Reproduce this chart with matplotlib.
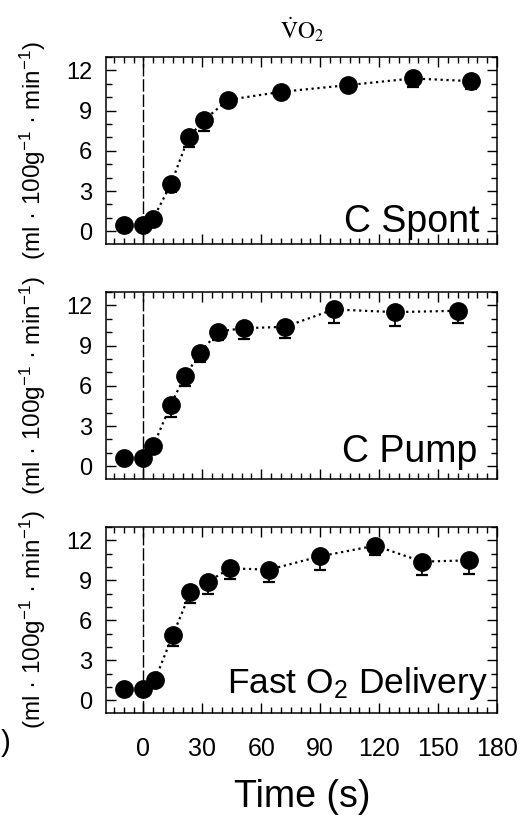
import matplotlib
matplotlib.use('Agg')
import matplotlib.pyplot as plt
from matplotlib.ticker import MultipleLocator

plt.rcParams['font.family'] = ['Liberation Sans', 'DejaVu Sans']
plt.rcParams['mathtext.fontset'] = 'custom'
plt.rcParams['mathtext.rm'] = 'Liberation Sans'
plt.rcParams['mathtext.it'] = 'Liberation Sans:italic'

# C Spont
t_spont = [-10, 0, 5, 14, 23, 31, 43, 70, 104, 137, 167]
v_spont = [0.45, 0.45, 0.95, 3.5, 7.0, 8.3, 9.8, 10.4, 10.9, 11.4, 11.2]
e_spont = [0, 0, 0, 0.6, 0.7, 0.8, 0.4, 0.35, 0.4, 0.65, 0.6]

# C Pump
t_pump = [-10, 0, 5, 14, 21, 29, 38, 51, 72, 97, 128, 160]
v_pump = [0.63, 0.6, 1.5, 4.6, 6.7, 8.45, 10.05, 10.3, 10.4, 11.7, 11.5, 11.6]
e_pump = [0, 0, 0, 0.9, 0.7, 0.7, 0.65, 0.8, 0.85, 1.0, 1.0, 0.9]

# Fast O2 Delivery
t_fast = [-10, 0, 6, 15, 24, 33, 44, 64, 90, 118, 142, 166]
v_fast = [0.82, 0.82, 1.56, 4.9, 8.1, 8.9, 9.9, 9.8, 10.8, 11.6, 10.4, 10.5]
e_fast = [0, 0, 0, 0.8, 0.8, 0.9, 0.8, 0.9, 1.0, 0.7, 1.0, 1.0]

panels = [
    (t_spont, v_spont, e_spont, 'C Spont', 0.954, 0.064, 27),
    (t_pump, v_pump, e_pump, 'C Pump', 0.949, 0.093, 27),
    (t_fast, v_fast, e_fast, 'Fast O$_2$ Delivery', 0.975, 0.107, 25.5),
]

W, H = 525, 818
fig = plt.figure(figsize=(W / 100, H / 100), dpi=100)

# axes boxes in pixels (left, top, right, bottom)
boxes = [(106, 57, 497, 244), (106, 292, 497, 479), (106, 527, 497, 713)]

for i, ((t, v, e, label, lx, ly, fs), (l, tp, r, b)) in enumerate(zip(panels, boxes)):
    ax = fig.add_axes([l / W, 1 - b / H, (r - l) / W, (b - tp) / H])
    ax.axvline(0, color='black', lw=1, dashes=(9, 2))
    ax.plot(t, v, color='black', ls=':', lw=1.6, zorder=2)
    ax.errorbar(t, v, yerr=[e, [0] * len(e)], fmt='none', ecolor='black',
                elinewidth=1.3, capsize=4.5, capthick=1.6, zorder=3)
    ax.plot(t, v, 'o', color='black', ms=12.5, zorder=4)
    ax.set_xlim(-19, 180)
    ax.set_ylim(-0.95, 13.0)
    ax.xaxis.set_major_locator(MultipleLocator(30))
    ax.xaxis.set_minor_locator(MultipleLocator(5))
    ax.yaxis.set_major_locator(MultipleLocator(3))
    ax.yaxis.set_minor_locator(MultipleLocator(1))
    ax.tick_params(which='both', direction='in', top=True, right=True, width=1)
    ax.tick_params(which='major', length=7)
    ax.tick_params(which='minor', length=4)
    ax.tick_params(axis='y', labelsize=17, pad=10)
    ax.tick_params(axis='x', labelsize=18, pad=17)
    if i < 2:
        ax.tick_params(axis='x', labelbottom=False)
    for s in ax.spines.values():
        s.set_linewidth(1.1)
    ax.set_ylabel('(ml · 100g$^{-1}$ · min$^{-1}$)', fontsize=17.5)
    ax.yaxis.set_label_coords(-0.148, 0.5)
    ax.text(lx, ly, label, transform=ax.transAxes, ha='right', va='baseline',
            fontsize=fs)

fig.text(302 / W, 1 - 30 / H, r'$\dot{\mathrm{V}}\mathrm{O}_2$', ha='center',
         va='center', fontsize=17, math_fontfamily='stix')
fig.text(302 / W, 1 - 797 / H, 'Time (s)', ha='center', va='center',
         fontsize=27)
fig.text(0.002, 1 - 743 / H, ')', ha='left', va='center', fontsize=21)

fig.savefig('out.png', dpi=100)
